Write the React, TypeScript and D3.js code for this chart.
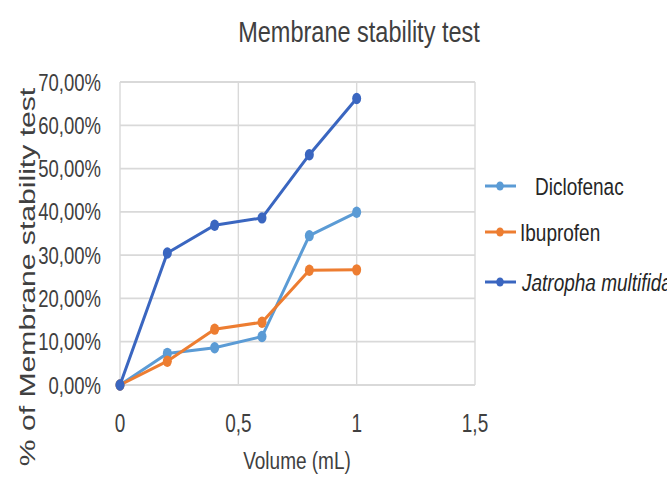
import * as d3 from "d3";
import { useEffect, useRef } from "react";

const volumes = [0, 0.2, 0.4, 0.6, 0.8, 1.0];
const diclofenac = [0, 0.073, 0.086, 0.112, 0.345, 0.399];
const ibuprofen = [0, 0.055, 0.129, 0.145, 0.265, 0.266];
const jatropha = [0, 0.305, 0.369, 0.386, 0.532, 0.662];
const seriesNames = ["Diclofenac", "Ibuprofen", "Jatropha multifida"];
const seriesColors = ["#5b9bd5", "#ed7d31", "#3a66c0"];
const yTicks = [0, 0.1, 0.2, 0.3, 0.4, 0.5, 0.6, 0.7];
const xTicks = [0, 0.5, 1, 1.5];

const FONT = "'Liberation Sans', Arial, sans-serif";
// the picture looks stretched vertically, so text gets a y-scale
const SY = 1.27;

const App = () => {
  const ref = useRef<SVGSVGElement>(null);
  const width = 667;
  const height = 477;
  const margin = { top: 82, right: 192, bottom: 92, left: 120 };

  useEffect(() => {
    const svg = d3.select(ref.current);
    svg.selectAll("*").remove();

    const w = width - margin.left - margin.right;
    const h = height - margin.top - margin.bottom;

    const xScale = d3.scaleLinear().domain([0, 1.5]).range([0, w]);
    const yScale = d3.scaleLinear().domain([0, 0.7]).range([h, 0]);

    svg.append("rect").attr("width", width).attr("height", height).attr("fill", "#fff");

    const label = (
      parent: any,
      x: number,
      y: number,
      txt: string,
      size: number,
      anchor = "start",
      sy = SY
    ) =>
      parent
        .append("text")
        .attr("transform", `translate(${x},${y}) scale(1,${sy})`)
        .attr("text-anchor", anchor)
        .attr("font-family", FONT)
        .attr("font-size", size)
        .attr("fill", "#404040")
        .text(txt);

    label(svg, 359, 42, "Membrane stability test", 23.5, "middle", 1.28);

    const g = svg.append("g").attr("transform", `translate(${margin.left},${margin.top})`);

    // grid
    g.selectAll(".hgrid")
      .data(yTicks)
      .join("line")
      .attr("x1", 0)
      .attr("x2", w)
      .attr("y1", (d) => yScale(d))
      .attr("y2", (d) => yScale(d))
      .attr("stroke", "#d9d9d9")
      .attr("stroke-width", 1.8);
    g.selectAll(".vgrid")
      .data(xTicks)
      .join("line")
      .attr("x1", (d) => xScale(d))
      .attr("x2", (d) => xScale(d))
      .attr("y1", 0)
      .attr("y2", h)
      .attr("stroke", "#d9d9d9")
      .attr("stroke-width", 1.4);

    // y labels
    yTicks.forEach((t) => {
      label(g, -19, yScale(t) + 8.5, (t * 100).toFixed(2).replace(".", ",") + "%", 18.5, "end");
    });

    // x labels
    xTicks.forEach((t) => {
      label(g, xScale(t), h + 47, String(t).replace(".", ","), 19, "middle", 1.32);
    });

    label(svg, 297, 469, "Volume (mL)", 19, "middle", 1.3);

    svg
      .append("text")
      .attr("transform", `translate(35,277) rotate(-90) scale(1.37,1)`)
      .attr("text-anchor", "middle")
      .attr("font-family", FONT)
      .attr("font-size", 22)
      .attr("fill", "#404040")
      .text("% of Membrane stability test");

    const allSeries = [diclofenac, ibuprofen, jatropha];
    const line = d3
      .line<number>()
      .x((_, i) => xScale(volumes[i]))
      .y((d) => yScale(d));

    allSeries.forEach((vals, si) => {
      g.append("path")
        .datum(vals)
        .attr("fill", "none")
        .attr("stroke", seriesColors[si])
        .attr("stroke-width", 3)
        .attr("d", line);
      g.selectAll(`.pt${si}`)
        .data(vals)
        .join("ellipse")
        .attr("cx", (_, i) => xScale(volumes[i]))
        .attr("cy", (d) => yScale(d))
        .attr("rx", 4.5)
        .attr("ry", 5.7)
        .attr("fill", seriesColors[si]);
    });

    // legend
    const legendY = [186, 232, 282];
    const textX = [535, 520, 522];
    seriesNames.forEach((name, i) => {
      const lg = svg.append("g");
      lg.append("line")
        .attr("x1", 485)
        .attr("x2", 516)
        .attr("y1", legendY[i])
        .attr("y2", legendY[i])
        .attr("stroke", seriesColors[i])
        .attr("stroke-width", 3);
      lg.append("ellipse")
        .attr("cx", 500)
        .attr("cy", legendY[i])
        .attr("rx", 3.8)
        .attr("ry", 4.6)
        .attr("fill", seriesColors[i]);
      label(lg, textX[i], legendY[i] + 8.5, name, 19)
        .attr("font-style", i === 2 ? "italic" : "normal")
        .attr("fill", "#262626");
    });
  }, []);

  return (
    <svg
      ref={ref}
      width={width}
      height={height}
      style={{ position: "absolute", left: 0, top: 0, display: "block" }}
    />
  );
};

export default App;
